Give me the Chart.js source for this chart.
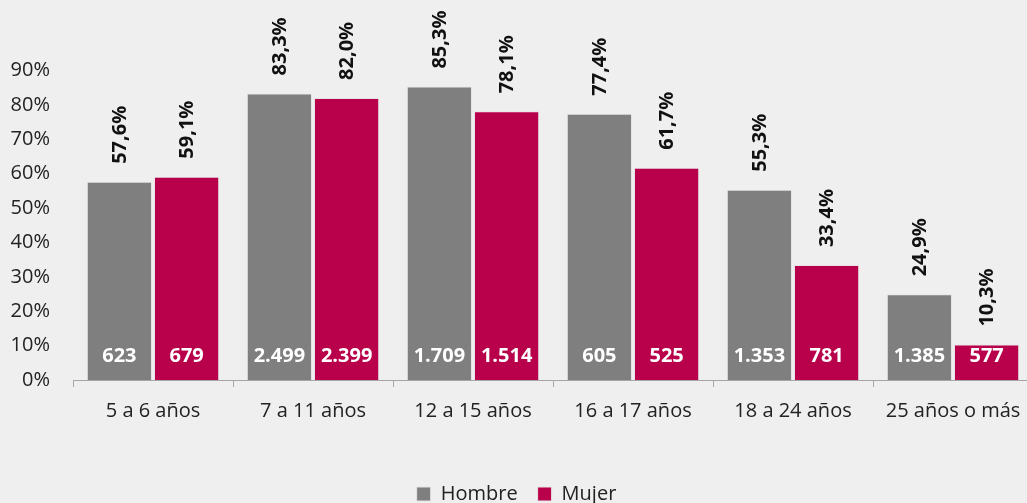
<!DOCTYPE html>
<html>
<head>
<meta charset="utf-8">
<script src="https://cdn.jsdelivr.net/npm/chart.js@4/dist/chart.umd.min.js"></script>
<style>
  html, body { margin: 0; padding: 0; background: #efefef; overflow: hidden; }
  #wrap { width: 1027px; height: 503px; overflow: hidden; }
</style>
</head>
<body>
<div id="wrap"><canvas id="myChart" width="1033" height="503"></canvas></div>
<script>
const categories = ['5 a 6 años', '7 a 11 años', '12 a 15 años', '16 a 17 años', '18 a 24 años', '25 años o más'];
const hombre = [57.6, 83.3, 85.3, 77.4, 55.3, 24.9];
const mujer = [59.1, 82.0, 78.1, 61.7, 33.4, 10.3];
const hombreN = ['623', '2.499', '1.709', '605', '1.353', '1.385'];
const mujerN = ['679', '2.399', '1.514', '525', '781', '577'];
const yTicks = [0, 10, 20, 30, 40, 50, 60, 70, 80, 90];

const FONT = '"Open Sans", "Noto Sans", sans-serif';
const counts = [hombreN, mujerN];

// labels: % rotated above each bar, count inside the bar near the base
const barLabels = {
    id: 'barLabels',
    afterDatasetsDraw(chart) {
        const c = chart.ctx;
        const base = chart.scales.y.getPixelForValue(0);
        chart.data.datasets.forEach((ds, i) => {
            chart.getDatasetMeta(i).data.forEach((bar, j) => {
                c.save();
                c.font = 'bold 20px ' + FONT;
                c.fillStyle = '#111';
                c.translate(bar.x, bar.y - 18);
                c.rotate(-Math.PI / 2);
                c.textAlign = 'left';
                c.textBaseline = 'middle';
                c.fillText(ds.data[j].toFixed(1).replace('.', ',') + '%', 0, 1);
                c.restore();

                c.save();
                c.font = 'bold 20px ' + FONT;
                c.fillStyle = '#fff';
                c.textAlign = 'center';
                c.textBaseline = 'middle';
                c.fillText(counts[i][j], bar.x, base - 24);
                c.restore();
            });
        });
    }
};

const ctx = document.getElementById('myChart').getContext('2d');
const myChart = new Chart(ctx, {
    type: 'bar',
    data: {
        labels: categories,
        datasets: [{
            label: 'Hombre',
            data: hombre,
            backgroundColor: '#7f7f7f',
            borderColor: '#e4e4e4',
            borderWidth: 1
        }, {
            label: 'Mujer',
            data: mujer,
            backgroundColor: '#b8004b',
            borderColor: '#e4e4e4',
            borderWidth: 1
        }]
    },
    options: {
        responsive: false,
        animation: false,
        layout: { padding: { top: 36, left: 0, right: 0, bottom: -11 } },
        datasets: { bar: { categoryPercentage: 0.84, barPercentage: 0.97 } },
        plugins: {
            tooltip: { enabled: false },
            legend: {
                position: 'bottom',
                labels: {
                    color: '#222',
                    font: { family: FONT, size: 20 },
                    boxWidth: 14,
                    boxHeight: 14,
                    padding: 20
                }
            }
        },
        scales: {
            x: {
                grid: { display: true, drawOnChartArea: false, tickLength: 7, color: '#a6a6a6' },
                border: { display: true, color: '#a6a6a6' },
                ticks: { color: '#222', font: { family: FONT, size: 20 }, padding: 12, maxRotation: 0 },
                afterFit(scale) { scale.height = 84; }
            },
            y: {
                min: 0,
                max: 100,
                grid: { display: false, drawTicks: false },
                border: { display: false },
                ticks: {
                    color: '#222',
                    font: { family: FONT, size: 20 },
                    padding: 23,
                    callback: v => v + '%'
                },
                afterBuildTicks(scale) {
                    scale.ticks = yTicks.map(v => ({ value: v }));
                },
                afterFit(scale) { scale.width = 73; }
            }
        }
    },
    plugins: [barLabels]
});
</script>
</body>
</html>
